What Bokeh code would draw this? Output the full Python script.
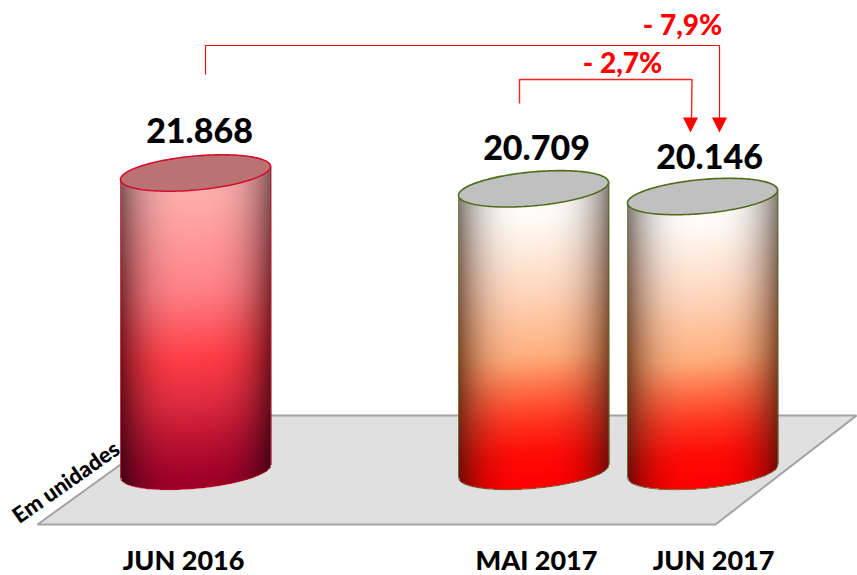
import numpy as np
from bokeh.plotting import figure
from bokeh.models import Range1d
from bokeh.core.properties import value
from bokeh.embed import file_html
from bokeh.resources import INLINE

# ---- chart data ----
categories = ["JUN 2016", "MAI 2017", "JUN 2017"]
values = [21868, 20709, 20146]
value_labels = ["21.868", "20.709", "20.146"]
changes = ["- 7,9%", "- 2,7%"]
unit_label = "Em unidades"

# ---- layout (page pixels) ----
W, H, M = 857, 575, 0
PX_PER_UNIT = 0.01365
BASE_PX = 471.0
CENTERS = [195, 533, 702]
A, B, K = 75.0, 17.0, -6.5   # ellipse half-width, half-height, shear


def vy(px):
    """page pixel row -> value on the chart's scale"""
    return (BASE_PX - np.asarray(px, dtype=float)) / PX_PER_UNIT


p = figure(width=W, height=H, output_backend="svg", toolbar_location=None,
           x_range=Range1d(M, M + W), y_range=Range1d(float(vy(M + H)), float(vy(M))),
           min_border=0, min_border_left=0, min_border_right=0, min_border_top=0, min_border_bottom=0)
p.axis.visible = False
p.grid.visible = False
p.outline_line_color = None
p.background_fill_color = "white"
p.border_fill_color = "white"

# floor
p.patch([37, 715, 856, 188], vy([524, 524, 415, 415]), fill_color="#e0e0e0",
        line_color="#a3a3a3", line_width=2)

STOPS_RED = [(0.0, (255, 176, 176)), (0.1, (255, 170, 170)), (0.37, (255, 130, 135)),
             (0.59, (255, 60, 70)), (0.72, (225, 45, 65)), (0.84, (190, 20, 50)), (0.97, (160, 0, 40)),
             (1.0, (160, 0, 40))]
EDGE_RED = [(0.0, (130, 90, 90)), (0.55, (120, 20, 30)), (1.0, (60, 0, 20))]
STOPS_ORANGE = [(0.0, (255, 255, 255)), (0.1, (255, 252, 248)), (0.34, (255, 215, 190)),
                (0.56, (255, 175, 125)), (0.67, (255, 110, 70)), (0.78, (255, 50, 30)),
                (0.89, (255, 10, 5)), (1.0, (255, 0, 0))]
EDGE_ORANGE = [(0.0, (130, 125, 120)), (0.55, (130, 70, 40)), (1.0, (110, 0, 0))]


def lerp_stops(v, stops):
    """colour ramp along v, softened so the stops leave no visible bands"""
    xs = [s[0] for s in stops]
    grid = np.linspace(-0.1, 1.1, 481)
    kernel = np.hanning(41)
    kernel = kernel / kernel.sum()
    out = []
    for i in range(3):
        ramp = np.interp(grid, xs, [s[1][i] for s in stops])
        soft = np.convolve(np.pad(ramp, 20, mode="edge"), kernel, mode="valid")
        out.append(np.interp(v, grid, soft))
    return np.stack(out, axis=-1)


def cylinder(cx, val, stops, edge_stops, top_fill, outline):
    top_c = BASE_PX - val * PX_PER_UNIT
    x0 = cx - A
    nx = int(2 * A) + 1
    y0 = top_c - 25
    ybot = BASE_PX + 25
    ny = int(ybot - y0)
    xs = x0 + np.arange(nx)
    ys = y0 + np.arange(ny) + 0.5
    X, Y = np.meshgrid(xs, ys)
    u = np.clip((X - cx) / A, -1, 1)
    s = np.sqrt(1 - u ** 2)
    upper = top_c + K * u
    lower = BASE_PX + K * u + B * s
    mask = (Y >= upper) & (Y <= lower)
    v = np.clip((Y - top_c - K * u) / (BASE_PX + B - top_c), 0, 1)
    col = lerp_stops(v, stops)
    shade = np.abs(u) ** 3.0
    edge_col = lerp_stops(v, edge_stops)
    rgb = col * (1 - shade[..., None]) + edge_col * shade[..., None]
    img = np.zeros((ny, nx), dtype=np.uint32)
    view = img.view(dtype=np.uint8).reshape((ny, nx, 4))
    view[..., :3] = np.clip(rgb, 0, 255).astype(np.uint8)
    view[..., 3] = np.where(mask, 255, 0)
    img = img[::-1]
    p.image_rgba(image=[img], x=[x0], y=[float(vy(y0 + ny))], dw=[nx], dh=[ny / PX_PER_UNIT])

    t = np.linspace(0, 2 * np.pi, 181)
    ex = cx + A * np.cos(t)
    # body outline
    tb = np.linspace(0, np.pi, 91)
    bx = np.r_[cx + A, cx + A * np.cos(tb), cx - A]
    by = np.r_[top_c + K, BASE_PX + K * np.cos(tb) + B * np.sin(tb), top_c - K]
    p.line(bx, vy(by), line_color=outline, line_width=1, line_alpha=0.7)
    p.patch(ex, vy(top_c + K * np.cos(t) + B * np.sin(t)), fill_color=top_fill,
            line_color=outline, line_width=1.6)


cylinder(CENTERS[0], values[0], STOPS_RED, EDGE_RED, "#bb7272", "#d0102c")
cylinder(CENTERS[1], values[1], STOPS_ORANGE, EDGE_ORANGE, "#c0c0c0", "#4f6b1a")
cylinder(CENTERS[2], values[2], STOPS_ORANGE, EDGE_ORANGE, "#c0c0c0", "#4f6b1a")

FONT = value("Lato Black")
# value labels
p.text([199, 536, 709], vy([130, 147, 156]), text=value_labels, text_font=FONT,
       text_font_style="bold", text_font_size="34px", text_color="black",
       text_align="center", text_baseline="middle")
# category labels
p.text([183, 536, 713], vy([559, 559, 559]), text=categories, text_font=FONT,
       text_font_style="bold", text_font_size="27px", text_color="black",
       text_align="center", text_baseline="middle")
# unit label
p.text([65], vy([481]), text=[unit_label], text_font=FONT, text_font_style="bold",
       text_font_size="22px", text_color="black", angle=np.radians(35),
       text_align="center", text_baseline="middle")

# change brackets
p.line([205, 205, 719, 719], vy([74, 45, 45, 120]), line_color="#f01010", line_width=1.2)
p.line([519, 519, 691.5, 691], vy([103, 79, 79, 120]), line_color="#ff2020", line_width=1.4)
for tip in (690, 719):
    p.patch([tip - 7.5, tip + 7.5, tip], vy([117, 117, 132]), fill_color="#ff0000", line_color=None)
p.text([682, 622], vy([23, 61]), text=changes, text_font=FONT, text_font_style="bold",
       text_font_size="28px", text_color="#ff0000", text_align="center", text_baseline="middle")

open("out.html", "w").write(file_html(p, INLINE))
